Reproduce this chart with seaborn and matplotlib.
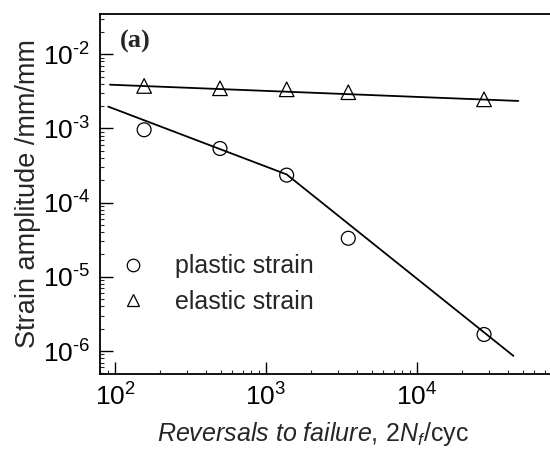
import numpy as np
import pandas as pd
import seaborn as sns
import matplotlib
matplotlib.use('Agg')
import matplotlib.pyplot as plt
from matplotlib.lines import Line2D
from matplotlib.ticker import LogLocator, NullFormatter, FuncFormatter

# data
reversals = [156, 496, 1371, 3508, 27800]
plastic_strain = [9.6e-4, 5.37e-4, 2.35e-4, 3.31e-5, 1.67e-6]
elastic_strain = [3.74e-3, 3.48e-3, 3.37e-3, 3.08e-3, 2.47e-3]

# fitted lines (vertices)
elastic_fit_x = [92.7, 46900]
elastic_fit_y = [3.89e-3, 2.35e-3]
plastic_fit_x = [90.3, 1371, 43500]
plastic_fit_y = [1.97e-3, 2.40e-4, 8.6e-7]

sns.set_style('ticks')
plt.rcParams['font.family'] = ['Liberation Sans', 'DejaVu Sans']
plt.rcParams['mathtext.fontset'] = 'custom'
plt.rcParams['mathtext.rm'] = 'Liberation Sans'
plt.rcParams['mathtext.it'] = 'Liberation Sans:italic'
plt.rcParams['mathtext.bf'] = 'Liberation Sans:bold'

df = pd.DataFrame({'reversals': reversals, 'plastic': plastic_strain, 'elastic': elastic_strain})

fig = plt.figure(figsize=(5.5, 4.54), dpi=100)
ax = fig.add_axes([100 / 550, 80 / 454, 450 / 550, 360 / 454])

sns.lineplot(x=elastic_fit_x, y=elastic_fit_y, ax=ax, color='black', linewidth=1.3)
sns.lineplot(x=plastic_fit_x, y=plastic_fit_y, ax=ax, color='black', linewidth=1.3, sort=False)
sns.scatterplot(data=df, x='reversals', y='plastic', ax=ax, marker='o', s=100,
                facecolor='none', edgecolor='black', linewidth=0.9, zorder=3)
sns.scatterplot(data=df, x='reversals', y='elastic', ax=ax, marker='^', s=110,
                facecolor='none', edgecolor='black', linewidth=0.9, zorder=3)

ax.set_xscale('log')
ax.set_yscale('log')
ax.set_xlim(79.6, 76000)
ax.set_ylim(4.9e-7, 0.0349)

ax.spines['right'].set_visible(False)
for s in ['left', 'bottom', 'top']:
    ax.spines[s].set_linewidth(1.3)
    ax.spines[s].set_color('black')


def pow_label(v, pos):
    e = int(round(np.log10(v)))
    return '10$^{\\mathregular{%s}}$' % str(e).replace('-', '\u2010')


ax.xaxis.set_major_formatter(FuncFormatter(pow_label))
ax.yaxis.set_major_formatter(FuncFormatter(pow_label))
ax.xaxis.set_minor_locator(LogLocator(base=10, subs=np.arange(2, 10)))
ax.yaxis.set_minor_locator(LogLocator(base=10, subs=np.arange(2, 10)))
ax.xaxis.set_minor_formatter(NullFormatter())
ax.yaxis.set_minor_formatter(NullFormatter())
ax.tick_params(which='major', direction='in', length=9, width=1, labelsize=19, pad=7, colors='black')
ax.tick_params(which='minor', direction='in', length=3, width=0.8)
ax.tick_params(top=False, right=False, which='both')

ax.set_xlabel(r'$\mathit{Reversals\ to\ failure,\,2N_f}$/cyc', fontsize=18)
ax.set_ylabel('Strain amplitude /mm/mm', fontsize=19.5)
ax.xaxis.set_label_coords(0.473, -0.128)
ax.yaxis.set_label_coords(-0.13, 0.5)

ax.text(0.045, 0.955, '(a)', transform=ax.transAxes, fontsize=19, fontweight='bold',
        family='Liberation Serif', va='top', ha='left')

handles = [
    Line2D([], [], marker='o', linestyle='none', markerfacecolor='none', markeredgecolor='black',
           markersize=9, markeredgewidth=0.9, label='plastic strain'),
    Line2D([], [], marker='^', linestyle='none', markerfacecolor='none', markeredgecolor='black',
           markersize=9, markeredgewidth=0.9, label='elastic strain'),
]
ax.legend(handles=handles, loc='lower left', bbox_to_anchor=(-0.005, 0.14), frameon=False,
          fontsize=18, handletextpad=0.7, labelspacing=0.45, borderaxespad=0)

fig.savefig('out.png', dpi=100)
